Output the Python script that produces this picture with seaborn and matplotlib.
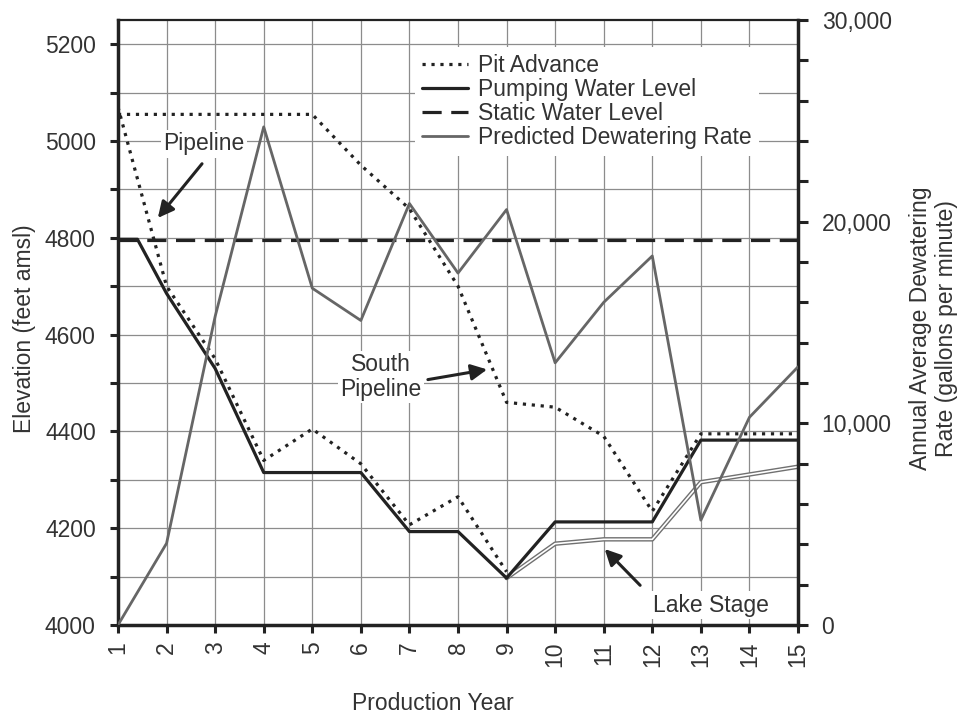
import numpy as np
import pandas as pd
import matplotlib
matplotlib.use("Agg")
import matplotlib.pyplot as plt
from matplotlib.lines import Line2D
from matplotlib.ticker import MultipleLocator, FuncFormatter
import seaborn as sns

# ---------------- data ----------------
years = list(range(1, 16))
south_pit_years = years
south_pit = [5055, 5055, 5055, 5055, 5055, 4950, 4860, 4700, 4460, 4450, 4390, 4235, 4395, 4395, 4395]
pipeline_pit_years = [1, 2, 3, 4, 5, 6, 7, 8, 9]
pipeline_pit = [5070, 4700, 4550, 4340, 4405, 4333, 4207, 4265, 4110]
pump_years = [1, 1.4, 2, 3, 4, 5, 6, 7, 8, 9, 10, 11, 12, 13, 14, 15]
pump_level = [4797, 4797, 4685, 4530, 4315, 4315, 4315, 4193, 4193, 4097, 4213, 4213, 4213, 4382, 4382, 4382]
static_years = [1, 15]
static_level = [4795, 4795]
lake_years = [9, 10, 11, 12, 13, 14, 15]
lake_stage = [4097, 4168, 4177, 4177, 4295, 4311, 4327]
rate_years = years
dewater_rate = [0, 4050, 15300, 24700, 16700, 15100, 20900, 17450, 20600, 13000, 16000, 18300, 5200, 10300, 12800]

legend_labels = ["Pit Advance", "Pumping Water Level", "Static Water Level", "Predicted Dewatering Rate"]

# ---------------- style ----------------
sns.set_style("ticks")
plt.rcParams["font.family"] = ["Liberation Sans", "DejaVu Sans"]
TXT = "#333333"
BLK = "#222222"
GRY = "#666666"
FS = 16.5

fig = plt.figure(figsize=(9.64, 7.15), dpi=100)
ax = fig.add_axes([118 / 964, 1 - 625 / 715, 680 / 964, 605 / 715])
ax2 = ax.twinx()

dot_style = (0, (1, 1.8))
dash_style = (0, (6, 3))

def line(axis, xs, ys, **kw):
    df = pd.DataFrame({"x": xs, "y": ys})
    sns.lineplot(data=df, x="x", y="y", ax=axis, sort=False, estimator=None, legend=False, **kw)

# elevation series
line(ax, pipeline_pit_years, pipeline_pit, color=BLK, lw=2.3, linestyle=dot_style, zorder=4)
line(ax, south_pit_years, south_pit, color=BLK, lw=2.3, linestyle=dot_style, zorder=4)
line(ax, static_years, static_level, color=BLK, lw=2.3, linestyle=dash_style, zorder=3)
line(ax, lake_years, lake_stage, color="#707070", lw=3.2, zorder=3)
line(ax, lake_years, lake_stage, color="white", lw=1.2, zorder=3.1)
line(ax, pump_years, pump_level, color=BLK, lw=2.3, zorder=5)

# dewatering rate
line(ax2, rate_years, dewater_rate, color=GRY, lw=2.0, zorder=3)

# ---------------- axes ----------------
ax.set_xlim(1, 15)
ax.set_ylim(4000, 5250)
ax2.set_ylim(0, 30000)

ax.xaxis.set_major_locator(MultipleLocator(1))
ax.yaxis.set_major_locator(MultipleLocator(200))
ax.yaxis.set_minor_locator(MultipleLocator(100))
ax2.yaxis.set_major_locator(MultipleLocator(10000))
ax2.yaxis.set_minor_locator(MultipleLocator(2000))
ax2.yaxis.set_major_formatter(FuncFormatter(lambda v, p: f"{int(v):,}"))
ax.yaxis.set_major_formatter(FuncFormatter(lambda v, p: f"{int(v)}"))

ax.grid(True, which="major", axis="x", color="#8c8c8c", lw=0.9)
ax.grid(True, which="both", axis="y", color="#8c8c8c", lw=0.9)
ax.set_axisbelow(True)

ax.tick_params(axis="y", which="both", direction="out", length=6, width=2.2, pad=10,
               labelsize=FS, labelcolor=TXT, color=BLK)
ax.tick_params(axis="x", which="major", direction="out", length=6, width=2.2, pad=6,
               labelsize=FS, labelcolor=TXT, color=BLK, labelrotation=90)
ax2.tick_params(axis="y", which="both", direction="out", length=7, width=2.2, pad=10,
                labelsize=FS, labelcolor=TXT, color=BLK)

for s in ["left", "bottom"]:
    ax.spines[s].set_linewidth(2.5)
    ax.spines[s].set_color(BLK)
ax.spines["top"].set_linewidth(1.6)
ax.spines["top"].set_color(BLK)
ax.spines["right"].set_visible(False)
for s in ["left", "bottom", "top"]:
    ax2.spines[s].set_visible(False)
ax2.spines["right"].set_visible(True)
ax2.spines["right"].set_linewidth(2.5)
ax2.spines["right"].set_color(BLK)

ax.set_xlabel("Production Year", fontsize=FS, color=TXT)
ax.xaxis.set_label_coords(0.463, -0.11)
ax.set_ylabel("Elevation (feet amsl)", fontsize=FS, color=TXT)
ax.yaxis.set_label_coords(-0.12, 0.49)
ax2.set_ylabel("Annual Average Dewatering\nRate (gallons per minute)", fontsize=FS, color=TXT,
               rotation=90, multialignment="center")
ax2.yaxis.set_label_coords(1.163, 0.49)

# ---------------- legend ----------------
handles = [
    Line2D([], [], color=BLK, lw=2.3, linestyle=dot_style),
    Line2D([], [], color=BLK, lw=2.3),
    Line2D([], [], color=BLK, lw=2.3, linestyle=dash_style),
    Line2D([], [], color=GRY, lw=2.0),
]
leg = ax2.legend(handles, legend_labels, loc="upper left", bbox_to_anchor=(415 / 964, 1 - 47 / 715),
                 bbox_transform=fig.transFigure, fontsize=FS, frameon=True, fancybox=False,
                 framealpha=1, facecolor="white", edgecolor="none", handlelength=2.0,
                 handletextpad=0.45, labelspacing=0.05, borderpad=0.3, borderaxespad=0)
for t in leg.get_texts():
    t.set_color(TXT)
leg.set_zorder(20)

# ---------------- annotations ----------------
arrow = dict(arrowstyle="-|>", lw=2.2, color=BLK, mutation_scale=24, shrinkA=0, shrinkB=0)
box = dict(boxstyle="square,pad=0.1", fc="white", ec="none")
ax2.annotate("", xy=(1.82, 4841), xytext=(2.73, 4953), xycoords=ax.transData,
             textcoords=ax.transData, arrowprops=arrow, zorder=10)
ax2.text(2.77, 4994, "Pipeline", transform=ax.transData, ha="center", va="center",
         fontsize=FS, color=TXT, bbox=box, zorder=10)
ax2.annotate("", xy=(8.6, 4528), xytext=(7.38, 4507), xycoords=ax.transData,
             textcoords=ax.transData, arrowprops=arrow, zorder=10)
ax2.text(6.41, 4513, "South\nPipeline", transform=ax.transData, ha="center", va="center",
         fontsize=FS, color=TXT, bbox=box, zorder=10, linespacing=1.1)
ax2.annotate("", xy=(11.02, 4157), xytext=(11.75, 4082), xycoords=ax.transData,
             textcoords=ax.transData, arrowprops=arrow, zorder=10)
ax2.text(13.21, 4041, "Lake Stage", transform=ax.transData, ha="center", va="center",
         fontsize=FS, color=TXT, bbox=box, zorder=10)

fig.savefig("out.png", dpi=100, facecolor="white")
